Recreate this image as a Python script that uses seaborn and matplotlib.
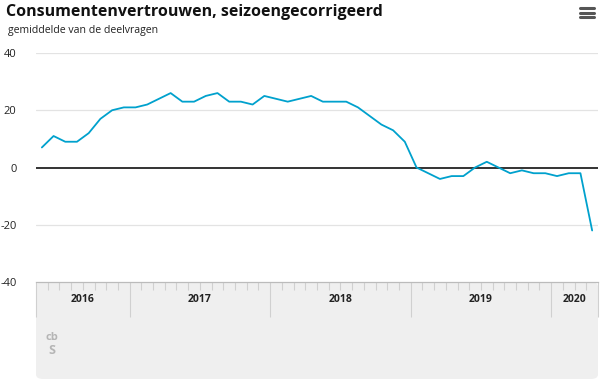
import numpy as np
import pandas as pd
import seaborn as sns
import matplotlib.pyplot as plt
from matplotlib.patches import FancyBboxPatch
from matplotlib.lines import Line2D
import matplotlib.transforms as mtransforms

# maandcijfers mei 2016 - april 2020
months = pd.date_range('2016-05-01', '2020-04-01', freq='MS')
values = [7, 11, 9, 9, 12, 17, 20, 21,
          21, 22, 24, 26, 23, 23, 25, 26, 23, 23, 22, 25,
          24, 23, 24, 25, 23, 23, 23, 21, 18, 15, 13, 9,
          0, -2, -4, -3, -3, 0, 2, 0, -2, -1, -2, -2,
          -3, -2, -2, -22]
years = ['2016', '2017', '2018', '2019', '2020']
yticks = [-40, -20, 0, 20, 40]

df = pd.DataFrame({'idx': np.arange(len(months)), 'month': months, 'value': values})

sns.set_theme(style='white')
plt.rcParams['font.family'] = ['Open Sans', 'DejaVu Sans']

W, H = 602, 381
fig = plt.figure(figsize=(W / 100, H / 100), dpi=100)

# grijze onderbalk
box = FancyBboxPatch((36 / W, 2 / H), 562 / W, (H - 282 - 2) / H,
                     boxstyle='round,pad=0,rounding_size=0.012',
                     transform=fig.transFigure, facecolor='#efefef',
                     edgecolor='none', zorder=-1)
fig.patches.append(box)

ax = fig.add_axes([36 / W, (H - 282) / H, 562 / W, (282 - 53) / H])
ax.set_facecolor('none')

sns.lineplot(data=df, x='idx', y='value', ax=ax, color='#00a1cd', linewidth=1.3)

ax.set_xlim(-0.5, len(months) - 0.5)
ax.set_ylim(-40, 40)
ax.set_yticks(yticks)
ax.set_yticklabels([str(t) for t in yticks], fontsize=8, color='#222222')
ax.tick_params(axis='y', length=0, pad=14)
for t in yticks:
    if t == 0:
        ax.axhline(0, color='#333333', linewidth=1.4, zorder=1)
    elif t != -40:
        ax.axhline(t, color='#e3e3e3', linewidth=0.9, zorder=0)

for s in ['top', 'right', 'left']:
    ax.spines[s].set_visible(False)
ax.spines['bottom'].set_color('#bbbbbb')
ax.spines['bottom'].set_linewidth(0.9)

# maandstreepjes en jaargrenzen
bounds = np.arange(len(months) + 1) - 0.5
year_starts = [i - 0.5 for i, m in enumerate(months) if m.month == 1]
ax.set_xticks([-0.5] + year_starts + [len(months) - 0.5])
ax.set_xticks(bounds, minor=True)
ax.set_xticklabels([])
ax.set_xticklabels([], minor=True)
ax.tick_params(axis='x', which='major', bottom=True, length=25, width=0.8,
               color='#d0d0d0', direction='out')
ax.tick_params(axis='x', which='minor', bottom=True, length=6, width=0.8,
               color='#d0d0d0', direction='out')
ax.set_xlabel('')
ax.set_ylabel('')

trans = mtransforms.blended_transform_factory(ax.transData, fig.transFigure)
edges = [-0.5] + year_starts + [len(months) - 0.5]
for yr, a, b in zip(years, edges[:-1], edges[1:]):
    ax.text((a + b) / 2, (H - 300) / H, yr, transform=trans, ha='center', va='center',
            fontsize=7.5, fontweight='bold', color='#222222')

fig.text(6 / W, 1 - 12 / H, 'Consumentenvertrouwen, seizoengecorrigeerd',
         fontsize=11.5, fontweight='bold', color='#111111', va='center')
fig.text(8 / W, 1 - 30 / H, 'gemiddelde van de deelvragen',
         fontsize=7.6, color='#222222', va='center')

# menu-icoon
for yy in [8, 12.5, 17]:
    fig.add_artist(Line2D([580 / W, 594 / W], [1 - yy / H, 1 - yy / H],
                          color='#555555', linewidth=2.2, transform=fig.transFigure))

# cbs-logo (benadering)
fig.text(52 / W, 1 - 338 / H, 'cb', fontsize=8, color='#b5b5b5', ha='center', va='center', fontweight='bold')
fig.text(52 / W, 1 - 351 / H, 'S', fontsize=9, color='#b5b5b5', ha='center', va='center', fontweight='bold')

fig.savefig('out.png', dpi=100)
